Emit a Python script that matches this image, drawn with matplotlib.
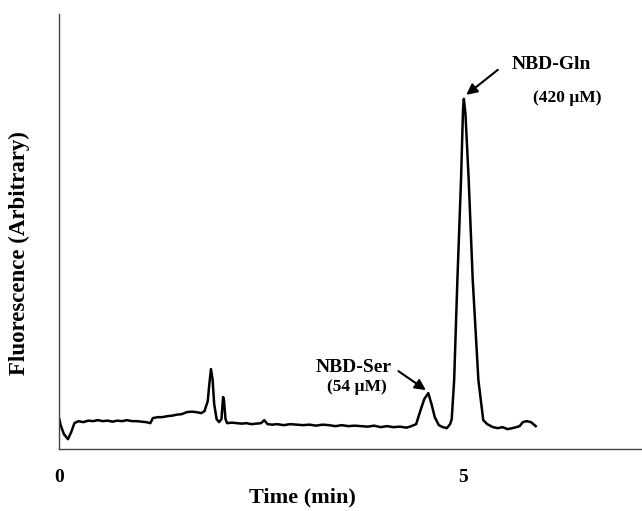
import matplotlib.pyplot as plt

# chromatogram trace (time in min, fluorescence in arbitrary units)
time_min = [0.00, 0.02, 0.06, 0.11, 0.15, 0.19, 0.24, 0.30, 0.36, 0.42, 0.48, 0.54,
            0.60, 0.66, 0.72, 0.78, 0.84, 0.90, 0.96, 1.02, 1.08, 1.13, 1.16, 1.22,
            1.28, 1.34, 1.40, 1.46, 1.52, 1.58, 1.64, 1.70, 1.76, 1.80, 1.84, 1.86,
            1.88, 1.90, 1.92, 1.95, 1.98, 2.01, 2.03, 2.04, 2.06, 2.08, 2.14, 2.20,
            2.26, 2.32, 2.38, 2.44, 2.50, 2.54, 2.58, 2.64, 2.70, 2.78, 2.86, 2.94,
            3.02, 3.10, 3.18, 3.26, 3.34, 3.42, 3.50, 3.58, 3.66, 3.74, 3.82, 3.90,
            3.98, 4.06, 4.14, 4.22, 4.30, 4.36, 4.42, 4.47, 4.52, 4.57, 4.61, 4.65,
            4.70, 4.75, 4.80, 4.84, 4.86, 4.89, 4.93, 4.975, 5.00, 5.01, 5.03, 5.07,
            5.12, 5.19, 5.25, 5.30, 5.37, 5.43, 5.49, 5.55, 5.61, 5.66, 5.70, 5.74,
            5.79, 5.84, 5.90]
signal = [31, 24, 15, 10, 17, 26, 28, 27, 28.5, 28, 29, 28,
          28.5, 27.5, 28.5, 28, 29, 28, 28, 27.5, 27, 26, 31, 32,
          32, 33, 33.5, 34.5, 35, 37, 37.5, 37, 36, 38, 48, 65,
          80, 70, 45, 30, 27, 30, 52, 50, 30, 26, 26.5, 26,
          25.5, 26, 25, 25.5, 26, 29, 25, 24.5, 25, 24, 25, 24.5,
          24, 24.5, 23.5, 24.5, 24, 23, 24, 23, 23.5, 23, 22.5, 23.5,
          22, 23, 22, 22.5, 21.5, 23, 25, 38, 50, 56, 45, 32,
          24, 22, 21, 25, 30, 69, 169, 269, 340, 350, 335, 269,
          169, 69, 29, 25, 22, 21, 22, 20, 21, 22, 23, 27,
          28, 27, 23]

peak_labels = ['NBD-Ser', 'NBD-Gln']
peak_conc = ['(54 µM)', '(420 µM)']

plt.rcParams['font.family'] = ['Liberation Serif', 'DejaVu Serif']

fig = plt.figure(figsize=(6.42, 5.11), dpi=100)
ax = fig.add_axes([0.092, 0.121, 0.908, 0.852])

ax.plot(time_min, signal, color='black', lw=1.8)

ax.set_xlim(0, 7.215)
ax.set_ylim(0, 435)

for side in ['top', 'right']:
    ax.spines[side].set_visible(False)
for side in ['left', 'bottom']:
    ax.spines[side].set_color('#444444')
    ax.spines[side].set_linewidth(1.0)

ax.set_yticks([])
ax.set_xticks([0, 5])
ax.set_xticklabels(['0', '5'], fontsize=14, fontweight='bold')
ax.tick_params(axis='x', length=0, pad=14)

ax.set_xlabel('Time (min)', fontsize=16, fontweight='bold')
ax.xaxis.set_label_coords(0.417, -0.110)
ax.xaxis.label.set_verticalalignment('center')
ax.set_ylabel('Fluorescence (Arbitrary)', fontsize=16.5, fontweight='bold')
ax.yaxis.set_label_coords(-0.068, 0.45)
ax.yaxis.label.set_verticalalignment('center')

# NBD-Ser annotation
ax.text(3.64, 82, peak_labels[0], fontsize=14, fontweight='bold', ha='center', va='center')
ax.text(3.68, 62, peak_conc[0], fontsize=12.5, fontweight='bold', ha='center', va='center')
ax.annotate('', xy=(4.54, 59), xytext=(4.20, 78),
            arrowprops=dict(arrowstyle='-|>', color='black', lw=1.5, mutation_scale=16,
                            shrinkA=0, shrinkB=0))

# NBD-Gln annotation
ax.text(6.09, 384, peak_labels[1], fontsize=14, fontweight='bold', ha='center', va='center')
ax.text(6.29, 351, peak_conc[1], fontsize=12.5, fontweight='bold', ha='center', va='center')
ax.annotate('', xy=(5.04, 354), xytext=(5.43, 379),
            arrowprops=dict(arrowstyle='-|>', color='black', lw=1.5, mutation_scale=16,
                            shrinkA=0, shrinkB=0))

plt.savefig('out.png', dpi=100)
